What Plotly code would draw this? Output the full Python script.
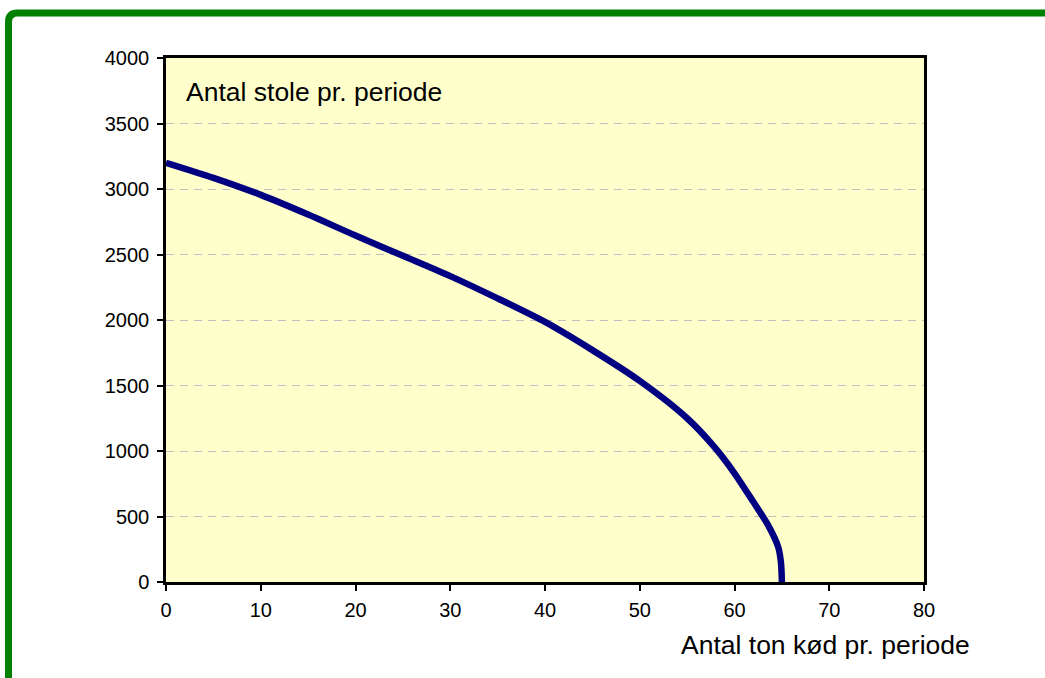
import plotly.graph_objects as go

# Transformation curve: tons of meat vs. chairs per period
meat_tons = [0, 5, 10, 15, 20, 25, 30, 35, 40, 45, 50, 55, 58, 60, 62, 63.5, 64.6, 64.9, 65]
chairs = [3200, 3085, 2955, 2805, 2645, 2490, 2335, 2165, 1985, 1770, 1535, 1250, 1020, 830, 610, 440, 270, 150, 0]

x_ticks = [0, 10, 20, 30, 40, 50, 60, 70, 80]
y_ticks = [0, 500, 1000, 1500, 2000, 2500, 3000, 3500, 4000]

W, H = 1045, 678
L, R, T, B = 166, 121, 58, 96
pw, ph = W - L - R, H - T - B


def px_to_paper(px, py):
    return (px - L) / pw, (H - B - py) / ph


FONT = "Liberation Sans, Arial, sans-serif"

fig = go.Figure(
    go.Scatter(
        x=meat_tons,
        y=chairs,
        mode="lines",
        line=dict(color="#000080", width=6.5, shape="spline", smoothing=0.8),
        hoverinfo="x+y",
    )
)

axis_common = dict(
    showline=True,
    linecolor="black",
    linewidth=2.5,
    mirror=True,
    ticks="outside",
    ticklen=6,
    tickwidth=2,
    tickcolor="black",
    zeroline=False,
    tickfont=dict(family=FONT, size=20, color="black"),
)

fig.update_xaxes(
    range=[0, 80],
    tickvals=x_ticks,
    ticktext=[str(v) for v in x_ticks],
    showgrid=False,
    ticklabelstandoff=2,
    **axis_common,
)
fig.update_yaxes(
    range=[0, 4000],
    tickvals=y_ticks,
    ticktext=[str(v) for v in y_ticks],
    showgrid=True,
    gridcolor="#c0c0c0",
    gridwidth=1,
    griddash="8px,6px",
    ticklabelstandoff=4,
    **axis_common,
)

# Green frame around the chart (top-left corner rounded, other sides run off the page)
pts = [(8.5, 720), (8.5, 22), (17.5, 13), (1070, 13)]
p = [px_to_paper(*q) for q in pts]
cx, cy = px_to_paper(8.5, 13)
frame_path = (
    f"M {p[0][0]},{p[0][1]} L {p[1][0]},{p[1][1]} "
    f"Q {cx},{cy} {p[2][0]},{p[2][1]} L {p[3][0]},{p[3][1]}"
)

fig.update_layout(
    width=W,
    height=H,
    margin=dict(l=L, r=R, t=T, b=B),
    paper_bgcolor="white",
    plot_bgcolor="#FFFFCC",
    showlegend=False,
    shapes=[
        dict(
            type="path",
            path=frame_path,
            xref="paper",
            yref="paper",
            line=dict(color="#008000", width=7),
            layer="above",
        )
    ],
    annotations=[
        dict(
            text="Antal stole pr. periode",
            xref="paper",
            yref="paper",
            x=px_to_paper(184, 0)[0],
            y=px_to_paper(0, 92)[1],
            xanchor="left",
            yanchor="middle",
            showarrow=False,
            font=dict(family=FONT, size=26.5, color="black"),
        ),
        dict(
            text="Antal ton kød pr. periode",
            xref="paper",
            yref="paper",
            x=px_to_paper(972, 0)[0],
            y=px_to_paper(0, 645)[1],
            xanchor="right",
            yanchor="middle",
            showarrow=False,
            font=dict(family=FONT, size=26.5, color="black"),
        ),
    ],
)

fig.write_html("out.html")
